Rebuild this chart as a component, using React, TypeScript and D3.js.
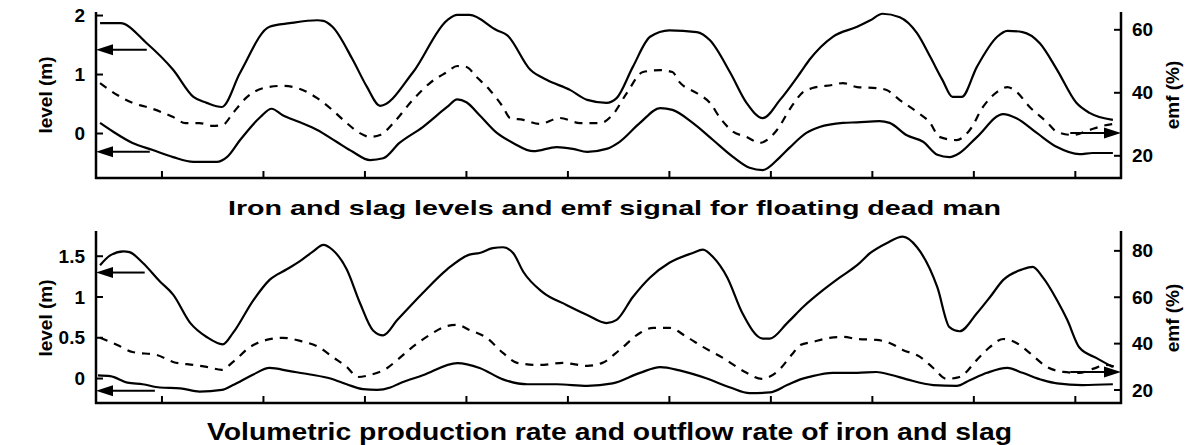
import React from "react";
import * as d3 from "d3";

// x in arbitrary time units, ticks every 10
const xTicks = [0, 10, 20, 30, 40, 50, 60, 70, 80, 90];

// ---------- Top panel ----------
const topTitle = "Iron and slag levels and emf signal for floating dead man";
const topLevelTicks = [0, 1, 2];
const topEmfTicks = [20, 40, 60];

const topUpper: [number, number][] = [
  [-6.1, 1.87], [-4.1, 1.87], [-1.5, 1.53], [1.1, 1.08], [3.1, 0.62], [4.4, 0.52], [5.9, 0.45],
  [7.7, 1.03], [10.6, 1.81], [12.6, 1.87], [15.3, 1.92], [15.9, 1.91], [16.8, 1.81], [18.8, 1.25],
  [20.2, 0.79], [21.5, 0.47], [24.7, 1.03], [28.1, 1.92], [29.1, 2.01], [30.3, 2.01], [33.0, 1.75],
  [34.0, 1.67], [36.3, 1.08], [37.9, 0.91], [40.2, 0.74], [41.9, 0.57], [43.8, 0.52], [44.8, 0.6],
  [46.4, 1.13], [48.1, 1.64], [50.0, 1.75], [52.7, 1.72], [54.0, 1.58], [56.0, 1.03], [57.6, 0.52],
  [59.2, 0.26], [60.9, 0.57], [62.9, 1.03], [63.8, 1.25], [66.1, 1.64], [68.5, 1.81], [69.8, 1.92],
  [71.0, 2.03], [72.7, 1.97], [74.4, 1.7], [75.7, 1.3], [76.9, 0.91], [77.9, 0.62], [78.8, 0.62],
  [80.3, 1.13], [82.3, 1.64], [83.3, 1.74], [84.8, 1.72], [86.5, 1.53], [88.2, 1.08], [90.1, 0.52],
  [91.4, 0.35], [93.7, 0.23],
];

const topDashed: [number, number][] = [
  [-6.1, 43.1], [-4.4, 39.3], [-2.9, 36.8], [-1.2, 35.2], [1.1, 32.3], [2.3, 30.4], [3.7, 30.4],
  [5.0, 29.5], [6.0, 29.8], [7.0, 33.6], [8.4, 38.7], [10.0, 41.5], [11.9, 42.2], [13.6, 41.2],
  [15.3, 38.3], [16.8, 34.5], [18.2, 30.4], [19.5, 27.2], [20.5, 26.0], [21.5, 26.6], [22.8, 30.4],
  [24.7, 37.7], [26.4, 43.1], [28.1, 46.6], [29.1, 48.5], [30.0, 48.2], [31.0, 45.0], [32.3, 40.9],
  [33.6, 35.5], [34.3, 32.0], [35.6, 31.4], [37.2, 30.1], [39.2, 32.0], [41.2, 30.4], [43.2, 30.4],
  [44.4, 33.0], [45.8, 39.9], [47.4, 46.6], [49.1, 47.2], [50.3, 46.6], [51.0, 43.4], [52.7, 39.9],
  [54.0, 36.8], [55.0, 32.0], [56.3, 27.6], [57.6, 26.0], [58.9, 24.1], [60.6, 28.2], [61.9, 35.0],
  [63.2, 40.3], [64.1, 41.5], [66.1, 42.5], [67.1, 43.1], [68.5, 41.8], [70.4, 41.5], [71.4, 40.9],
  [72.7, 37.7], [74.4, 33.9], [75.7, 30.4], [76.6, 26.0], [78.3, 25.0], [79.6, 28.2], [80.9, 35.5],
  [82.3, 40.3], [83.3, 41.8], [84.2, 40.3], [85.5, 35.5], [87.2, 30.7], [88.2, 27.6], [89.8, 26.6],
  [91.4, 28.2], [92.7, 29.5], [93.7, 30.1],
];

const topLower: [number, number][] = [
  [-6.1, 0.18], [-4.8, 0.03], [-2.9, -0.16], [-0.9, -0.28], [1.1, -0.4], [3.1, -0.48], [5.4, -0.48],
  [6.4, -0.4], [7.7, -0.11], [9.7, 0.28], [10.8, 0.42], [11.9, 0.31], [13.6, 0.19], [15.3, 0.06],
  [17.2, -0.14], [18.8, -0.31], [20.5, -0.45], [21.8, -0.42], [23.4, -0.16], [25.7, 0.11], [28.1, 0.45],
  [29.1, 0.58], [30.0, 0.53], [31.3, 0.31], [33.0, 0.01], [34.6, -0.16], [36.6, -0.3], [38.9, -0.23],
  [40.5, -0.26], [41.9, -0.31], [43.8, -0.26], [45.1, -0.14], [47.1, 0.18], [49.1, 0.43], [50.3, 0.4],
  [52.3, 0.18], [54.3, -0.11], [56.3, -0.4], [57.9, -0.58], [59.2, -0.62], [60.9, -0.4], [61.9, -0.23],
  [63.5, 0.01], [64.8, 0.11], [67.1, 0.18], [68.5, 0.19], [70.7, 0.21], [71.7, 0.18], [73.4, -0.03],
  [75.0, -0.14], [76.4, -0.36], [77.6, -0.4], [78.6, -0.33], [80.3, -0.06], [82.9, 0.33], [84.2, 0.26],
  [86.2, 0.01], [88.2, -0.23], [90.4, -0.35], [91.7, -0.33], [93.7, -0.33],
];

// arrows: [fromT, toT, value]
const topArrowsLevel: [number, number, number][] = [[-1.5, -6.5, 1.42], [-1.2, -6.5, -0.31]];
const topArrowsEmf: [number, number, number][] = [[89.5, 94.5, 27.2]];

// ---------- Bottom panel ----------
const bottomTitle = "Volumetric production rate and outflow rate of iron and slag";
const bottomLevelTicks = [0, 0.5, 1, 1.5];
const bottomEmfTicks = [20, 40, 60, 80];

const bottomUpper: [number, number][] = [
  [-6.1, 1.39], [-5.1, 1.51], [-3.8, 1.56], [-3.2, 1.55], [-1.9, 1.42], [-0.2, 1.19], [1.1, 1.03],
  [2.8, 0.68], [4.4, 0.51], [6.0, 0.42], [7.0, 0.56], [9.0, 0.96], [10.6, 1.21], [12.3, 1.34],
  [13.6, 1.44], [14.9, 1.56], [15.9, 1.64], [16.8, 1.58], [18.2, 1.34], [19.5, 0.93], [20.8, 0.59],
  [21.8, 0.53], [23.2, 0.72], [25.7, 1.05], [28.1, 1.34], [30.3, 1.52], [31.3, 1.54], [32.6, 1.6],
  [33.6, 1.61], [34.6, 1.54], [35.6, 1.31], [37.5, 1.06], [39.9, 0.9], [41.9, 0.78], [43.8, 0.68],
  [44.8, 0.72], [46.4, 1.0], [48.1, 1.24], [50.0, 1.42], [52.3, 1.54], [53.3, 1.58], [54.3, 1.49],
  [55.7, 1.24], [57.2, 0.8], [59.2, 0.49], [59.9, 0.49], [61.6, 0.68], [63.2, 0.88], [65.1, 1.08],
  [66.8, 1.24], [68.5, 1.39], [69.8, 1.54], [71.4, 1.66], [73.0, 1.74], [74.4, 1.61], [76.4, 1.12],
  [77.6, 0.63], [78.6, 0.58], [80.3, 0.8], [81.6, 1.0], [82.9, 1.21], [84.8, 1.34], [85.8, 1.37],
  [86.8, 1.24], [88.2, 0.96], [89.2, 0.72], [90.4, 0.38], [92.1, 0.25], [93.7, 0.14],
];

const bottomDashed: [number, number][] = [
  [-6.1, 42.5], [-4.4, 39.4], [-2.9, 36.4], [-0.5, 35.1], [1.1, 32.1], [3.1, 30.8], [4.4, 30.0],
  [5.9, 28.7], [7.0, 32.1], [8.7, 38.6], [10.3, 41.6], [11.9, 42.5], [13.6, 41.2], [15.6, 38.1],
  [16.8, 34.3], [18.2, 30.0], [19.3, 25.6], [20.5, 26.5], [22.2, 29.5], [23.2, 33.0], [24.7, 38.6],
  [26.4, 43.8], [28.1, 47.6], [29.1, 48.1], [30.3, 45.9], [32.0, 42.5], [33.6, 36.0], [35.0, 31.7],
  [37.2, 30.8], [39.5, 31.7], [41.9, 30.4], [43.4, 31.7], [45.1, 37.3], [47.1, 44.6], [48.4, 46.8],
  [50.0, 46.8], [51.7, 42.9], [53.3, 38.6], [55.3, 33.8], [57.6, 27.4], [59.1, 24.8], [60.6, 27.8],
  [62.2, 36.0], [62.9, 39.4], [64.1, 40.7], [65.8, 42.5], [67.1, 42.9], [68.5, 42.0], [70.4, 41.6],
  [71.7, 40.3], [73.0, 37.3], [74.7, 34.3], [76.0, 29.5], [77.3, 24.8], [78.6, 25.6], [80.3, 33.0],
  [81.6, 38.6], [82.9, 42.0], [84.2, 40.3], [85.5, 36.0], [87.2, 30.0], [88.8, 27.8], [90.4, 27.4],
  [91.7, 29.1], [93.1, 30.8], [93.9, 30.0],
];

const bottomLower: [number, number][] = [
  [-6.3, 0.04], [-5.1, 0.03], [-3.4, -0.05], [-1.9, -0.07], [-0.2, -0.11], [1.8, -0.12], [3.7, -0.16],
  [5.9, -0.14], [7.0, -0.08], [9.0, 0.05], [10.6, 0.13], [12.6, 0.09], [14.6, 0.05], [16.6, 0.0],
  [18.2, -0.07], [19.8, -0.13], [21.2, -0.14], [22.5, -0.11], [23.4, -0.06], [25.7, 0.04], [29.1, 0.19],
  [31.3, 0.13], [33.6, -0.01], [36.0, -0.07], [38.9, -0.07], [41.9, -0.09], [44.4, -0.06], [47.1, 0.07],
  [49.1, 0.14], [51.0, 0.1], [53.7, 0.0], [56.0, -0.11], [57.9, -0.18], [59.9, -0.17], [61.6, -0.08],
  [62.9, -0.01], [63.8, 0.02], [66.1, 0.07], [68.5, 0.07], [70.4, 0.08], [71.7, 0.05], [73.4, -0.01],
  [76.0, -0.08], [78.3, -0.09], [79.6, -0.02], [81.3, 0.07], [83.3, 0.13], [84.8, 0.07], [86.8, -0.02],
  [88.2, -0.06], [90.7, -0.08], [93.7, -0.07],
];

const bottomArrowsLevel: [number, number, number][] = [[-1.7, -6.5, 1.3], [-0.7, -6.5, -0.15]];
const bottomArrowsEmf: [number, number, number][] = [[89.5, 94.5, 27.8]];

const FONT = "'Liberation Sans', Arial, Helvetica, sans-serif";

type PanelProps = {
  yTop: number;
  yBottom: number;
  axisTop: number;
  levelDomain: [number, number];
  emfDomain: [number, number];
  levelTicks: number[];
  emfTicks: number[];
  upper: [number, number][];
  dashed: [number, number][];
  lower: [number, number][];
  arrowsLevel: [number, number, number][];
  arrowsEmf: [number, number, number][];
  title: string;
  titleY: number;
  titleSize: number;
  titleX: number;
  titleLen: number;
};

function Arrow({ x1, x2, y }: { x1: number; x2: number; y: number }) {
  const dir = Math.sign(x2 - x1);
  const head = 17;
  const hw = 5.5;
  const bx = x2 - dir * head;
  return (
    <g>
      <line x1={x1} y1={y} x2={bx} y2={y} stroke="#000" strokeWidth={2} />
      <path d={`M${x2},${y} L${bx},${y - hw} L${bx},${y + hw} Z`} fill="#000" />
    </g>
  );
}

function Panel(p: PanelProps) {
  const left = 96;
  const right = 1121;
  const x = d3.scaleLinear().domain([-6.5, 94.5]).range([left, right]);
  const yL = d3.scaleLinear().domain(p.levelDomain).range([p.yBottom, p.yTop]);
  const yE = d3.scaleLinear().domain(p.emfDomain).range([p.yBottom, p.yTop]);
  const lineL = d3
    .line<[number, number]>()
    .x((d) => x(d[0]))
    .y((d) => yL(d[1]))
    .curve(d3.curveMonotoneX);
  const lineE = d3
    .line<[number, number]>()
    .x((d) => x(d[0]))
    .y((d) => yE(d[1]))
    .curve(d3.curveMonotoneX);
  const mid = (p.yTop + p.yBottom) / 2;
  return (
    <g>
      <path d={lineL(p.upper) || ""} fill="none" stroke="#000" strokeWidth={2.2} />
      <path d={lineL(p.lower) || ""} fill="none" stroke="#000" strokeWidth={2.2} />
      <path
        d={lineE(p.dashed) || ""}
        fill="none"
        stroke="#000"
        strokeWidth={2.2}
        strokeDasharray="8,7"
      />
      {p.arrowsLevel.map((a, i) => (
        <Arrow key={"al" + i} x1={x(a[0])} x2={x(a[1])} y={yL(a[2])} />
      ))}
      {p.arrowsEmf.map((a, i) => (
        <Arrow key={"ae" + i} x1={x(a[0])} x2={x(a[1])} y={yE(a[2])} />
      ))}
      {/* axes */}
      <line x1={left} y1={p.axisTop} x2={left} y2={p.yBottom + 1} stroke="#000" strokeWidth={2.5} />
      <line x1={right} y1={p.axisTop} x2={right} y2={p.yBottom + 1} stroke="#000" strokeWidth={2.5} />
      <line x1={left - 1} y1={p.yBottom} x2={right + 1} y2={p.yBottom} stroke="#000" strokeWidth={2.5} />
      {xTicks.map((t) => (
        <line key={"xt" + t} x1={x(t)} x2={x(t)} y1={p.yBottom} y2={p.yBottom - 7} stroke="#000" strokeWidth={2} />
      ))}
      {p.levelTicks.map((t) => (
        <g key={"lt" + t}>
          <line x1={left} x2={left + 7} y1={yL(t)} y2={yL(t)} stroke="#000" strokeWidth={2} />
          <text
            x={left - 11}
            y={yL(t)}
            textAnchor="end"
            dominantBaseline="central"
            fontFamily={FONT}
            fontWeight="bold"
            fontSize={19}
          >
            {String(t)}
          </text>
        </g>
      ))}
      {p.emfTicks.map((t) => (
        <g key={"et" + t}>
          <line x1={right - 7} x2={right} y1={yE(t)} y2={yE(t)} stroke="#000" strokeWidth={2} />
          <text
            x={right + 11}
            y={yE(t)}
            textAnchor="start"
            dominantBaseline="central"
            fontFamily={FONT}
            fontWeight="bold"
            fontSize={19}
          >
            {String(t)}
          </text>
        </g>
      ))}
      <text
        transform={`translate(45,${mid}) rotate(-90)`}
        textAnchor="middle"
        dominantBaseline="central"
        fontFamily={FONT}
        fontWeight="bold"
        fontSize={19}
      >
        level (m)
      </text>
      <text
        transform={`translate(1172,${mid}) rotate(-90)`}
        textAnchor="middle"
        dominantBaseline="central"
        fontFamily={FONT}
        fontWeight="bold"
        fontSize={19}
      >
        emf (%)
      </text>
      <text
        x={p.titleX}
        y={p.titleY}
        fontFamily={FONT}
        fontWeight="bold"
        fontSize={p.titleSize}
        textLength={p.titleLen}
        lengthAdjust="spacingAndGlyphs"
      >
        {p.title}
      </text>
    </g>
  );
}

export default function App() {
  return (
    <svg
      width={1196}
      height={445}
      style={{ position: "absolute", left: 0, top: 0, background: "#fff" }}
    >
      <rect x={0} y={0} width={1196} height={445} fill="#fff" />
      <Panel
        yTop={12}
        yBottom={178}
        axisTop={12}
        levelDomain={[-0.754, 2.06]}
        emfDomain={[12.95, 65.65]}
        levelTicks={topLevelTicks}
        emfTicks={topEmfTicks}
        upper={topUpper}
        dashed={topDashed}
        lower={topLower}
        arrowsLevel={topArrowsLevel}
        arrowsEmf={topArrowsEmf}
        title={topTitle}
        titleX={228}
        titleY={215}
        titleSize={21}
        titleLen={773}
      />
      <Panel
        yTop={233}
        yBottom={403}
        axisTop={231}
        levelDomain={[-0.3, 1.785]}
        emfDomain={[14.4, 87.7]}
        levelTicks={bottomLevelTicks}
        emfTicks={bottomEmfTicks}
        upper={bottomUpper}
        dashed={bottomDashed}
        lower={bottomLower}
        arrowsLevel={bottomArrowsLevel}
        arrowsEmf={bottomArrowsEmf}
        title={bottomTitle}
        titleX={207}
        titleY={440}
        titleSize={23}
        titleLen={805}
      />
    </svg>
  );
}
